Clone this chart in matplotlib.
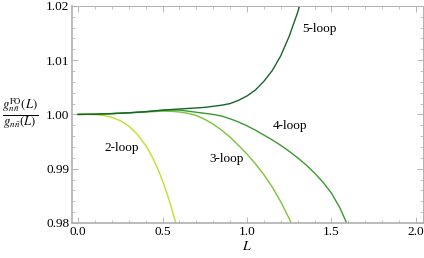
import numpy as np
import matplotlib
matplotlib.use("Agg")
import matplotlib.pyplot as plt
from matplotlib.ticker import MultipleLocator

# values
L_2loop = [0.0, 0.05, 0.1, 0.15, 0.2, 0.25, 0.3, 0.35, 0.4, 0.425, 0.45, 0.475,
           0.5, 0.525, 0.55, 0.575, 0.59]
g_2loop = [1.0, 1.0, 0.99995, 0.9998, 0.99946, 0.99884, 0.99784, 0.99636, 0.99427,
           0.99296, 0.99145, 0.98972, 0.98777, 0.98556, 0.98308, 0.98033, 0.9785]

L_3loop = [0.0, 0.1, 0.2, 0.3, 0.4, 0.5, 0.55, 0.6, 0.65, 0.7, 0.75, 0.8, 0.85,
           0.9, 0.95, 1.0, 1.05, 1.1, 1.15, 1.2, 1.25, 1.3]
g_3loop = [1.0, 1.00004, 1.00015, 1.0003, 1.00045, 1.0006, 1.00057, 1.00045,
           1.0002, 0.9998, 0.9991, 0.9982, 0.9971, 0.9958, 0.9943, 0.9927, 0.9909,
           0.9889, 0.9866, 0.9839, 0.9808, 0.9772]

L_4loop = [0.0, 0.1, 0.2, 0.3, 0.4, 0.5, 0.55, 0.6, 0.65, 0.7, 0.75, 0.8, 0.85,
           0.9, 0.95, 1.0, 1.05, 1.1, 1.15, 1.2, 1.25, 1.3, 1.35, 1.4, 1.45, 1.5,
           1.55, 1.6]
g_4loop = [1.0, 1.00004, 1.00015, 1.0003, 1.0005, 1.00075, 1.0008, 1.0008, 1.0006,
           1.0004, 1.0002, 1.0, 0.9997, 0.9992, 0.9986, 0.9979, 0.9971, 0.9962,
           0.9953, 0.9943, 0.9932, 0.9920, 0.9907, 0.9892, 0.9875, 0.9855, 0.9828,
           0.9793]

L_5loop = [0.0, 0.1, 0.2, 0.3, 0.4, 0.5, 0.6, 0.7, 0.75, 0.8, 0.85, 0.9, 0.95,
           1.0, 1.05, 1.1, 1.15, 1.2, 1.25, 1.3, 1.35]
g_5loop = [1.0, 1.00004, 1.00015, 1.0003, 1.0005, 1.0008, 1.001, 1.0012, 1.0013,
           1.0015, 1.0017, 1.002, 1.0026, 1.0034, 1.0045, 1.0061, 1.0081, 1.0108,
           1.0144, 1.0188, 1.024]

labels = ["2-loop", "3-loop", "4-loop", "5-loop"]
label_pos = [(0.26, 0.9939), (0.882, 0.9917), (1.254, 0.9978), (1.432, 1.0157)]
colors = ["#c6dd2c", "#7ec23c", "#3a9a30", "#16662c"]

plt.rcParams["font.family"] = "serif"
plt.rcParams["font.serif"] = ["Liberation Serif", "DejaVu Serif"]
plt.rcParams["mathtext.fontset"] = "stix"

fig = plt.figure(figsize=(4.24, 2.58), dpi=100)
ax = fig.add_axes([0.170, 0.136, 0.827, 0.841])

series = [(L_2loop, g_2loop), (L_3loop, g_3loop), (L_4loop, g_4loop), (L_5loop, g_5loop)]
for (x, y), c in zip(series, colors):
    ax.plot(x, y, color=c, lw=1.0)

for txt, (x, y) in zip(labels, label_pos):
    ax.text(x, y, txt, fontsize=9.5, ha="center", va="center")

ax.set_xlim(-0.036, 2.041)
ax.set_ylim(0.98, 1.02)

ax.xaxis.set_major_locator(MultipleLocator(0.5))
ax.xaxis.set_minor_locator(MultipleLocator(0.1))
ax.yaxis.set_major_locator(MultipleLocator(0.01))
ax.yaxis.set_minor_locator(MultipleLocator(0.002))
ax.xaxis.set_major_formatter(plt.FuncFormatter(lambda v, p: f"{v:.1f}"))
ax.yaxis.set_major_formatter(plt.FuncFormatter(lambda v, p: f"{v:.2f}"))

ax.tick_params(which="both", direction="in", top=True, right=True,
               color="#aaaaaa", labelsize=9.5, pad=2)
ax.tick_params(which="major", length=4, width=0.6)
ax.tick_params(which="minor", length=2, width=0.5)
for s in ax.spines.values():
    s.set_color("#b0b0b0")
    s.set_linewidth(0.7)
ax.spines["left"].set_linewidth(1.2)
ax.spines["bottom"].set_linewidth(1.2)

ax.set_xlabel(r"$L$", fontsize=10, labelpad=2)
ax.set_ylabel(r"$\frac{g_{n\,\bar{n}}^{\mathrm{FO}}(L)}{g_{n\,\bar{n}}(L)}$",
              fontsize=13, rotation=0, va="center", ha="center")
ax.yaxis.set_label_coords(-0.148, 0.5)

fig.savefig("out.png", dpi=100)
